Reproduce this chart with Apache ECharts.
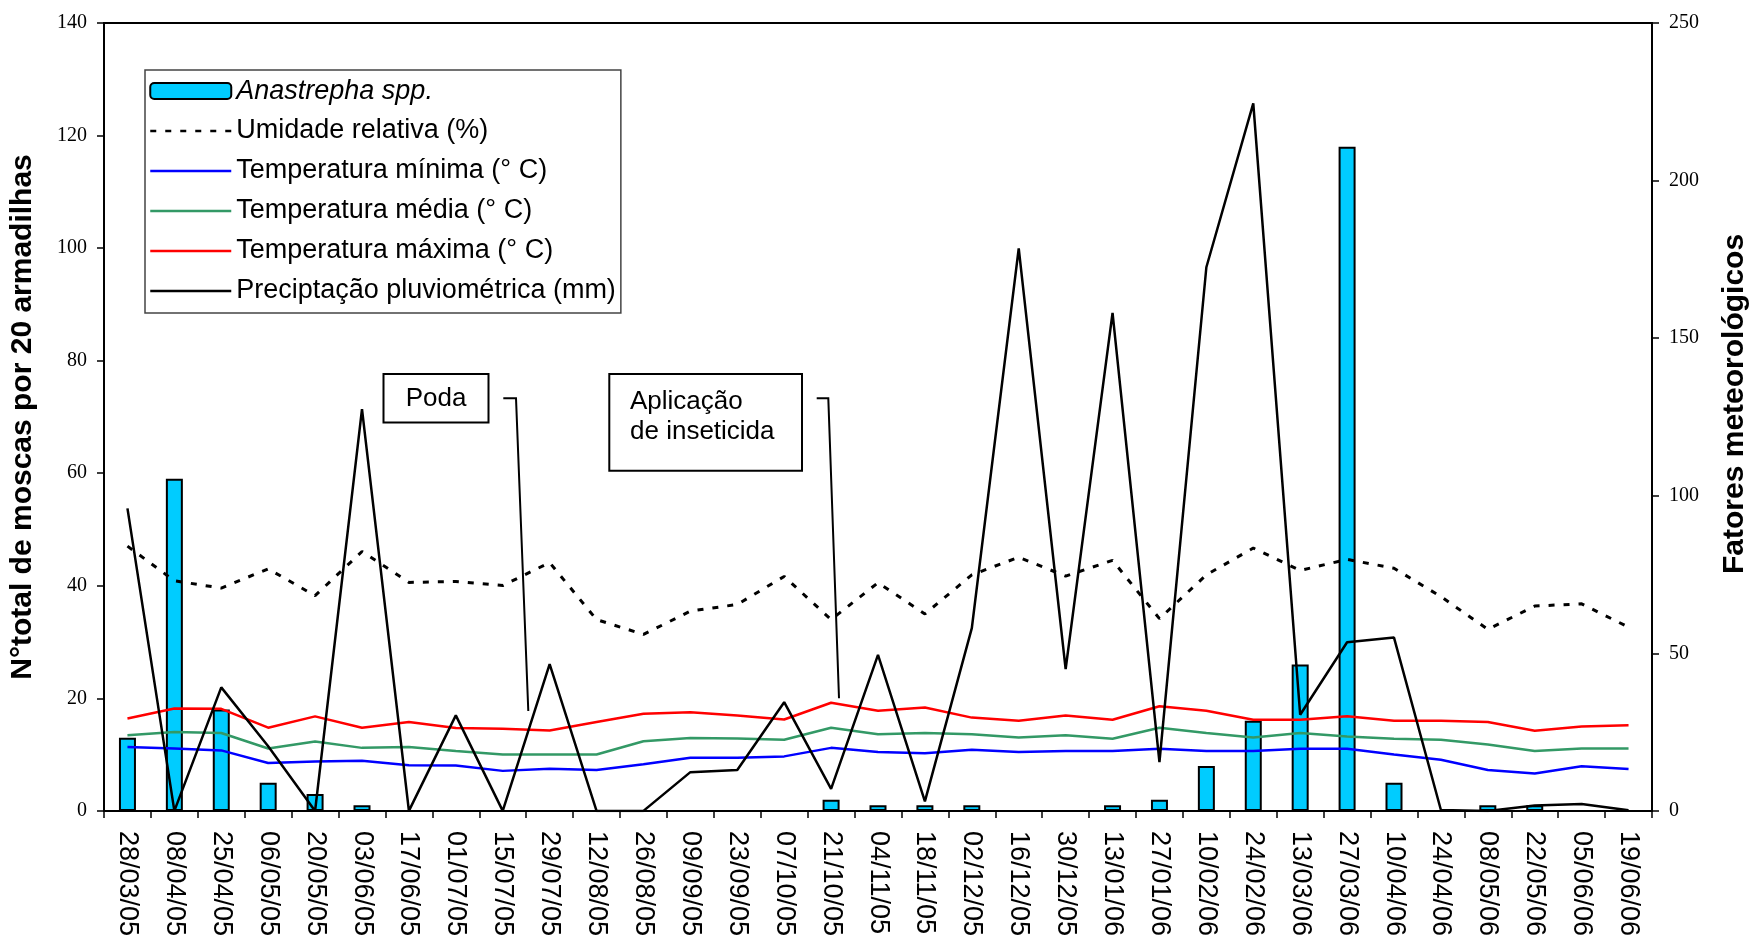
<!DOCTYPE html>
<html>
<head>
<meta charset="utf-8">
<script src="https://cdn.jsdelivr.net/npm/echarts@6/dist/echarts.min.js"></script>
<style>
html,body{margin:0;padding:0;background:#fff;}
#chart{width:1758px;height:939px;}
</style>
</head>
<body>
<div id="chart"></div>
<script>
const categories = ['28/03/05','08/04/05','25/04/05','06/05/05','20/05/05','03/06/05','17/06/05','01/07/05','15/07/05','29/07/05','12/08/05','26/08/05','09/09/05','23/09/05','07/10/05','21/10/05','04/11/05','18/11/05','02/12/05','16/12/05','30/12/05','13/01/06','27/01/06','10/02/06','24/02/06','13/03/06','27/03/06','10/04/06','24/04/06','08/05/06','22/05/06','05/06/06','19/06/06'];
const anastrepha = [13,59,18,5,3,1,0,0,0,0,0,0,0,0,0,2,1,1,1,0,0,1,2,8,16,26,118,5,0,1,1,0,0];
const umidade = [84,73,70.7,76.8,68.3,82.3,72.5,72.8,71.5,78.8,60.7,56,63.4,65.5,74.4,60.7,72.4,62.5,74.9,80.5,74.5,79.5,61,74.9,83.4,76.3,79.8,77,68,57.6,65,65.7,58.3];
const tempMin = [20.3,19.8,19.2,15.2,15.7,15.9,14.5,14.4,12.7,13.4,13,14.8,16.9,16.9,17.3,20,18.7,18.3,19.4,18.7,19,19,19.7,19,19,19.7,19.7,17.9,16.2,13,11.9,14.2,13.3];
const tempMed = [24,25,24.7,19.8,22,20,20.3,19,17.9,17.9,17.9,22.1,23.1,23,22.6,26.4,24.3,24.7,24.3,23.3,24,22.9,26.4,24.7,23.3,24.7,23.6,22.9,22.6,21.1,19,19.8,19.8];
const tempMax = [29.3,32.5,32.4,26.4,30,26.4,28.2,26.3,26.1,25.5,28.2,30.8,31.3,30.3,29,34.3,31.8,32.8,29.6,28.6,30.3,28.9,33.2,31.8,28.9,28.9,30,28.6,28.6,28.2,25.4,26.8,27.2];
const precip = [96,0,39.2,20.5,0,127.5,0,30.3,0,46.6,0,0,12.3,13,34.5,7,49.5,3,58,178.5,45,158,15.5,172.5,224.5,30.5,53.5,55,0.3,0,1.7,2.2,0.2];
const leftTicks = {min:0, max:140, interval:20};
const rightTicks = {min:0, max:250, interval:50};

const SANS = 'Liberation Sans, Arial, sans-serif';
const SERIF = 'Liberation Serif, Times New Roman, serif';

const chart = echarts.init(document.getElementById('chart'));
const axisCommon = {
  axisLine:{show:true, lineStyle:{color:'#000', width:2}},
  axisTick:{show:true, length:7, lineStyle:{color:'#000', width:1.5}},
  splitLine:{show:false},
  axisLabel:{fontFamily:SERIF, fontSize:20, color:'#000', margin:17},
  nameLocation:'middle',
  nameTextStyle:{fontFamily:SANS, fontSize:30, fontWeight:'bold', color:'#000'}
};
const noDot = {color:'rgba(0,0,0,0)', borderWidth:0};
chart.setOption({
  animation:false,
  backgroundColor:'#fff',
  grid:{left:104, right:100, top:23, bottom:123, show:true, borderColor:'#000', borderWidth:2},
  legend:{
    orient:'vertical', left:145, top:70, padding:[7,5,8,4],
    itemWidth:81, itemHeight:16, itemGap:12,
    borderColor:'#444', borderWidth:1.5, backgroundColor:'#fff',
    selectedMode:false,
    lineStyle:{width:2.5},
    textStyle:{fontFamily:SANS, fontSize:27, color:'#000', lineHeight:28},
    data:[
      {name:'Anastrepha spp.', textStyle:{fontStyle:'italic'}},
      'Umidade relativa (%)','Temperatura mínima (° C)','Temperatura média (° C)','Temperatura máxima (° C)','Preciptação pluviométrica (mm)'
    ]
  },
  xAxis:{
    type:'category', data:categories, boundaryGap:true,
    axisLine:{show:true, lineStyle:{color:'#000', width:2}},
    axisTick:{show:true, length:7, interval:0, lineStyle:{color:'#000', width:1.5}},
    axisLabel:{interval:0, rotate:-90, fontFamily:SANS, fontSize:27, color:'#000', margin:20},
    splitLine:{show:false}
  },
  yAxis:[
    Object.assign({}, axisCommon, {type:'value', position:'left', min:leftTicks.min, max:leftTicks.max, interval:leftTicks.interval,
      name:'N°total de moscas por 20 armadilhas', nameGap:66}),
    Object.assign({}, axisCommon, {type:'value', position:'right', min:rightTicks.min, max:rightTicks.max, interval:rightTicks.interval,
      name:'Fatores meteorológicos', nameGap:68,
      nameTextStyle:{fontFamily:SANS, fontSize:30, fontWeight:'bold', color:'#000', padding:[0,0,0,26]}})
  ],
  series:[
    {name:'Anastrepha spp.', type:'bar', yAxisIndex:0, data:anastrepha, barWidth:17,
      itemStyle:{color:'#00CCFF', borderColor:'#000', borderWidth:2}, z:2},
    {name:'Umidade relativa (%)', type:'line', yAxisIndex:1, data:umidade, symbol:'none',
      lineStyle:{color:'#000', width:3, type:[6,9]}, itemStyle:noDot, z:3},
    {name:'Temperatura mínima (° C)', type:'line', yAxisIndex:1, data:tempMin, symbol:'none',
      lineStyle:{color:'#0000FF', width:2.5}, itemStyle:noDot, z:3},
    {name:'Temperatura média (° C)', type:'line', yAxisIndex:1, data:tempMed, symbol:'none',
      lineStyle:{color:'#339966', width:2.5}, itemStyle:noDot, z:3},
    {name:'Temperatura máxima (° C)', type:'line', yAxisIndex:1, data:tempMax, symbol:'none',
      lineStyle:{color:'#FF0000', width:2.5}, itemStyle:noDot, z:3},
    {name:'Preciptação pluviométrica (mm)', type:'line', yAxisIndex:1, data:precip, symbol:'none',
      lineStyle:{color:'#000', width:2.5}, itemStyle:noDot, z:4}
  ],
  graphic:[
    {type:'rect', shape:{x:383.5, y:374, width:105, height:48.5}, style:{fill:'#fff', stroke:'#000', lineWidth:2}, z:10},
    {type:'text', x:436, y:399, style:{text:'Poda', fontFamily:SANS, fontSize:26, fill:'#000', align:'center', verticalAlign:'middle'}, z:11},
    {type:'polyline', shape:{points:[[503.3,398.3],[516,398.3],[528.3,711]]}, style:{stroke:'#000', lineWidth:2, fill:null}, z:10},
    {type:'rect', shape:{x:609.3, y:374, width:192.7, height:96.7}, style:{fill:'#fff', stroke:'#000', lineWidth:2}, z:10},
    {type:'text', x:630, y:386.7, style:{text:'Aplicação\nde inseticida', fontFamily:SANS, fontSize:26, lineHeight:30, fill:'#000', align:'left', verticalAlign:'top'}, z:11},
    {type:'polyline', shape:{points:[[816.7,398.3],[828.3,398.3],[839,698.3]]}, style:{stroke:'#000', lineWidth:2, fill:null}, z:10}
  ]
});
</script>
</body>
</html>
